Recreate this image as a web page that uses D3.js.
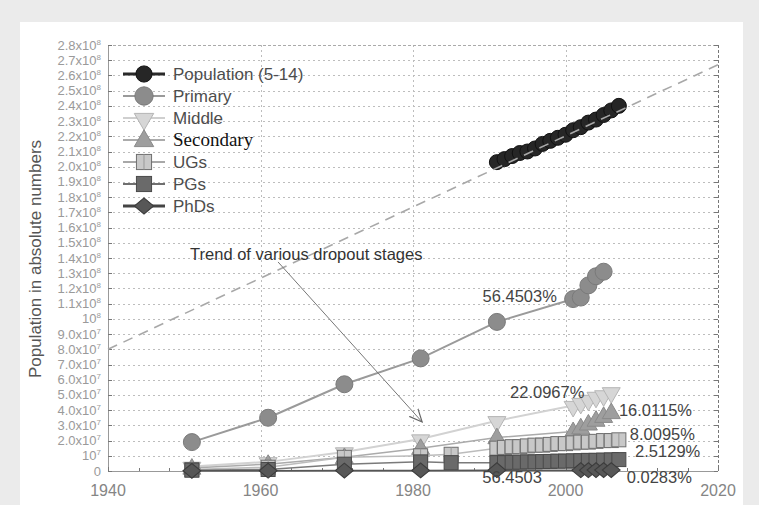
<!DOCTYPE html>
<html>
<head>
<meta charset="utf-8">
<script src="https://cdn.jsdelivr.net/npm/d3@7"></script>
<style>
  html, body { margin: 0; padding: 0; background: #ebebeb; }
  svg { display: block; }
  text { font-family: "Liberation Sans", Arial, sans-serif; }
  text.serif { font-family: "Liberation Serif", "Times New Roman", serif; }
</style>
</head>
<body>
<svg id="chart" width="759" height="505"></svg>
<script>
// ---- data -------------------------------------------------------------
const populationYears  = [1991,1992,1993,1994,1995,1996,1997,1998,1999,2000,2001,2002,2003,2004,2005,2006,2007];
const populationValues = [2.03e8,2.05e8,2.07e8,2.09e8,2.10e8,2.12e8,2.15e8,2.17e8,2.19e8,2.21e8,2.24e8,2.26e8,2.29e8,2.31e8,2.34e8,2.37e8,2.40e8];

const primaryYears  = [1951,1961,1971,1981,1991,2001,2002,2003,2004,2005];
const primaryValues = [1.9e7,3.5e7,5.7e7,7.4e7,9.8e7,1.13e8,1.14e8,1.22e8,1.28e8,1.31e8];

const middleYears  = [1951,1961,1971,1981,1991,2001,2002,2003,2004,2005,2006];
const middleValues = [0.3e7,0.6e7,1.25e7,2.1e7,3.3e7,4.3e7,4.5e7,4.7e7,4.9e7,5.0e7,5.2e7];

const secondaryYears  = [1951,1961,1971,1981,1991,2001,2002,2003,2004,2005,2006];
const secondaryValues = [0.2e7,0.45e7,0.9e7,1.5e7,2.2e7,2.6e7,2.85e7,3.1e7,3.35e7,3.6e7,3.85e7];

const ugYears  = [1951,1961,1971,1981,1985,1991,1992,1993,1994,1995,1996,1997,1998,1999,2000,2001,2002,2003,2004,2005,2006,2007];
const ugValues = [0.1e7,0.25e7,0.9e7,1.0e7,1.1e7,1.5e7,1.55e7,1.6e7,1.6e7,1.65e7,1.7e7,1.7e7,1.75e7,1.8e7,1.8e7,1.85e7,1.9e7,1.9e7,1.95e7,2.0e7,2.0e7,2.05e7];

const pgYears  = [1951,1961,1971,1981,1985,1991,1992,1993,1994,1995,1996,1997,1998,1999,2000,2001,2002,2003,2004,2005,2006,2007];
const pgValues = [0.05e7,0.1e7,0.45e7,0.6e7,0.55e7,0.55e7,0.55e7,0.57e7,0.58e7,0.6e7,0.6e7,0.62e7,0.63e7,0.65e7,0.65e7,0.67e7,0.68e7,0.7e7,0.7e7,0.72e7,0.73e7,0.75e7];

const phdYears  = [1951,1961,1971,1981,1991,2002,2003,2004,2005,2006];
const phdValues = [0.01e7,0.02e7,0.03e7,0.04e7,0.05e7,0.05e7,0.05e7,0.06e7,0.06e7,0.06e7];

// dashed population trend
const trendYears  = [1940, 2020];
const trendValues = [8.0e7, 2.67e8];

const seriesNames = ["Population (5-14)", "Primary", "Middle", "Secondary", "UGs", "PGs", "PhDs"];

const xTicks = [1940, 1960, 1980, 2000, 2020];
const xMinorTicks = [1944,1948,1952,1956,1964,1968,1972,1976,1984,1988,1992,1996,2004,2008,2012,2016];
const yTicks = [0,1e7,2e7,3e7,4e7,5e7,6e7,7e7,8e7,9e7,1e8,1.1e8,1.2e8,1.3e8,1.4e8,1.5e8,1.6e8,1.7e8,1.8e8,1.9e8,2.0e8,2.1e8,2.2e8,2.3e8,2.4e8,2.5e8,2.6e8,2.7e8,2.8e8];

// percentage labels, anchored in data units (year, value)
const noteTexts  = ["56.4503%", "22.0967%", "16.0115%", "8.0095%", "2.5129%", "0.0283%", "56.4503"];
const noteYears  = [1994.0, 1997.6, 2011.8, 2012.7, 2013.4, 2012.3, 1993.0];
const noteValues = [1.144e8, 5.13e7, 4.0e7, 2.37e7, 1.25e7, -0.4e7, -0.46e7];

const trendNote = "Trend of various dropout stages";
const trendNoteAt = [1966.0, 1.42e8];
const arrowFrom = [1962.3, 1.374e8];
const arrowTo   = [1981.2, 3.22e7];

const yTitle = "Population in absolute numbers";

// ---- layout -----------------------------------------------------------
const svg = d3.select("#chart");
const x = d3.scaleLinear().domain([1940, 2020]).range([108, 718]);
const y = d3.scaleLinear().domain([0, 2.8e8]).range([471, 45]);
const [x0, x1] = x.range();
const [yb, yt] = y.range();

svg.append("rect").attr("x", 0).attr("y", 0).attr("width", 759).attr("height", 505).attr("fill", "#ebebeb");
svg.append("rect").attr("x", 20).attr("y", 22).attr("width", 723).attr("height", 483).attr("fill", "#ffffff");

// grid
const grid = svg.append("g").attr("stroke", "#bdbdbd").attr("stroke-width", 1).attr("stroke-dasharray", "2,3");
grid.selectAll("line.h").data(yTicks.filter(v => v > 0 && v < 2.8e8)).join("line")
  .attr("x1", x0).attr("x2", x1).attr("y1", d => Math.round(y(d)) + 0.5).attr("y2", d => Math.round(y(d)) + 0.5);
grid.selectAll("line.v").data([1960, 1980, 2000]).join("line")
  .attr("x1", d => Math.round(x(d)) + 0.5).attr("x2", d => Math.round(x(d)) + 0.5).attr("y1", yt).attr("y2", yb);

// frame: solid left/bottom, dotted top/right
svg.append("line").attr("x1", x0 + 0.5).attr("x2", x0 + 0.5).attr("y1", yt).attr("y2", yb).attr("stroke", "#999");
svg.append("line").attr("x1", x0).attr("x2", x1).attr("y1", yb + 0.5).attr("y2", yb + 0.5).attr("stroke", "#999");
svg.append("line").attr("x1", x0).attr("x2", x1).attr("y1", yt + 0.5).attr("y2", yt + 0.5).attr("stroke", "#aaa").attr("stroke-dasharray", "3,2");
svg.append("line").attr("x1", x1 + 0.5).attr("x2", x1 + 0.5).attr("y1", yt).attr("y2", yb).attr("stroke", "#777").attr("stroke-dasharray", "3,2");

// tick marks (inward)
const ticks = svg.append("g").attr("stroke", "#777").attr("stroke-width", 1);
ticks.selectAll("line.yl").data(yTicks).join("line")
  .attr("x1", x0).attr("x2", x0 + 4).attr("y1", d => Math.round(y(d)) + 0.5).attr("y2", d => Math.round(y(d)) + 0.5);
ticks.selectAll("line.yr").data(yTicks).join("line")
  .attr("x1", x1 - 4).attr("x2", x1).attr("y1", d => Math.round(y(d)) + 0.5).attr("y2", d => Math.round(y(d)) + 0.5);
ticks.selectAll("line.xb").data(xTicks).join("line")
  .attr("x1", d => Math.round(x(d)) + 0.5).attr("x2", d => Math.round(x(d)) + 0.5).attr("y1", yb - 4).attr("y2", yb);
ticks.selectAll("line.xm").data(xMinorTicks).join("line")
  .attr("x1", d => Math.round(x(d)) + 0.5).attr("x2", d => Math.round(x(d)) + 0.5).attr("y1", yb - 3).attr("y2", yb);

// y tick labels like 2.0x10^7
const yLab = svg.append("g").attr("fill", "#9a9a9a").attr("font-size", 13).attr("text-anchor", "end");
yTicks.forEach(v => {
  const t = yLab.append("text").attr("x", 101).attr("y", y(v) + 4.5);
  if (v === 0) { t.text("0"); return; }
  const e = Math.floor(Math.log10(v) + 1e-9);
  const m = v / Math.pow(10, e);
  const base = Math.abs(m - 1) < 1e-9 ? "10" : m.toFixed(1) + "x10";
  t.append("tspan").text(base);
  t.append("tspan").attr("dy", -5).attr("font-size", 8).text(e);
});

// x tick labels
svg.append("g").attr("fill", "#858585").attr("font-size", 16).attr("text-anchor", "middle")
  .selectAll("text").data(xTicks).join("text")
  .attr("x", d => x(d)).attr("y", 496).text(d => d);

// y axis title
svg.append("text")
  .attr("transform", "translate(41,259) rotate(-90)")
  .attr("text-anchor", "middle").attr("font-size", 17).attr("fill", "#555")
  .text(yTitle);

// ---- markers ----------------------------------------------------------
function drawMarker(g, kind, cx, cy, legend) {
  const s = legend ? 1.08 : 1;
  if (kind === "pop") {
    g.append("circle").attr("cx", cx).attr("cy", cy).attr("r", 7.5 * s).attr("fill", "#262626").attr("stroke", "#111");
  } else if (kind === "primary") {
    g.append("circle").attr("cx", cx).attr("cy", cy).attr("r", 8.5 * s).attr("fill", "#8c8c8c").attr("stroke", "#7a7a7a");
  } else if (kind === "middle") {
    g.append("path").attr("d", d3.symbol(d3.symbolTriangle, 140 * s * s)())
      .attr("transform", `translate(${cx},${cy + 1}) rotate(180)`)
      .attr("fill", "#d6d6d6").attr("stroke", "#b5b5b5");
  } else if (kind === "secondary") {
    g.append("path").attr("d", d3.symbol(d3.symbolTriangle, 140 * s * s)())
      .attr("transform", `translate(${cx},${cy + 1})`)
      .attr("fill", "#9e9e9e").attr("stroke", "#8a8a8a");
  } else if (kind === "ug") {
    const w = 14 * s;
    g.append("rect").attr("x", cx - w / 2).attr("y", cy - w / 2).attr("width", w).attr("height", w)
      .attr("fill", "#c8c8c8").attr("stroke", "#6f6f6f").attr("stroke-width", 1);
    g.append("line").attr("x1", cx).attr("x2", cx).attr("y1", cy - w / 2).attr("y2", cy + w / 2).attr("stroke", "#999");
  } else if (kind === "pg") {
    const w = 14 * s;
    g.append("rect").attr("x", cx - w / 2).attr("y", cy - w / 2).attr("width", w).attr("height", w)
      .attr("fill", "#6a6a6a").attr("stroke", "#4a4a4a");
  } else if (kind === "phd") {
    g.append("path").attr("d", d3.symbol(d3.symbolSquare, 110 * s * s)())
      .attr("transform", `translate(${cx},${cy}) scale(1.2,1) rotate(45)`)
      .attr("fill", "#575757").attr("stroke", "#3c3c3c");
  }
}

const series = [
  { kind: "primary",   years: primaryYears,   values: primaryValues,   line: "#9a9a9a", w: 2 },
  { kind: "middle",    years: middleYears,    values: middleValues,    line: "#d2d2d2", w: 2 },
  { kind: "secondary", years: secondaryYears, values: secondaryValues, line: "#ababab", w: 1.5 },
  { kind: "ug",        years: ugYears,        values: ugValues,        line: "#bcbcbc", w: 1.5 },
  { kind: "pg",        years: pgYears,        values: pgValues,        line: "#7a7a7a", w: 1.5 },
  { kind: "phd",       years: phdYears,       values: phdValues,       line: "#555",    w: 1.5 },
  { kind: "pop",       years: populationYears, values: populationValues, line: "#222", w: 2 }
];

const line = d3.line().x(d => x(d[0])).y(d => y(d[1]));
const plot = svg.append("g");
series.forEach(sr => {
  const pts = sr.years.map((yr, i) => [yr, sr.values[i]]);
  plot.append("path").attr("d", line(pts)).attr("fill", "none")
    .attr("stroke", sr.line).attr("stroke-width", sr.w);
  const mg = plot.append("g");
  pts.forEach(p => drawMarker(mg, sr.kind, x(p[0]), y(p[1]), false));
});

// dashed trend line over the population markers
plot.append("path")
  .attr("d", line(trendYears.map((yr, i) => [yr, trendValues[i]])))
  .attr("fill", "none").attr("stroke", "#a8a8a8").attr("stroke-width", 1.6)
  .attr("stroke-dasharray", "10,7");

// ---- legend -----------------------------------------------------------
const legendKinds = ["pop", "primary", "middle", "secondary", "ug", "pg", "phd"];
const legendLine  = ["#2a2a2a", "#9a9a9a", "#cfcfcf", "#ababab", "#a8a8a8", "#6f6f6f", "#444"];
const lg = svg.append("g");
seriesNames.forEach((name, i) => {
  const cy = 74 + i * 22;
  lg.append("line").attr("x1", 123).attr("x2", 165).attr("y1", cy).attr("y2", cy)
    .attr("stroke", legendLine[i]).attr("stroke-width", i === 0 || i === 6 ? 3 : 2);
  drawMarker(lg, legendKinds[i], 144, cy, true);
  const t = lg.append("text").attr("x", 173).attr("y", cy + 6).text(name);
  if (name === "Secondary") {
    t.attr("class", "serif").attr("font-size", 19).attr("fill", "#111");
  } else {
    t.attr("font-size", 17).attr("fill", "#4d4d4d");
  }
});

// ---- annotations ------------------------------------------------------
const notes = svg.append("g").attr("font-size", 16.5).attr("fill", "#444").attr("text-anchor", "middle");
noteTexts.forEach((txt, i) => {
  notes.append("text").attr("x", x(noteYears[i])).attr("y", y(noteValues[i]) + 5.5).text(txt);
});

svg.append("defs").append("marker")
  .attr("id", "openArrow").attr("viewBox", "0 0 12 12").attr("refX", 11).attr("refY", 6)
  .attr("markerWidth", 14).attr("markerHeight", 14).attr("markerUnits", "userSpaceOnUse")
  .attr("orient", "auto")
  .append("path").attr("d", "M0,1 L11,6 L0,11").attr("fill", "none").attr("stroke", "#666").attr("stroke-width", 1);

svg.append("line")
  .attr("x1", x(arrowFrom[0])).attr("y1", y(arrowFrom[1]))
  .attr("x2", x(arrowTo[0])).attr("y2", y(arrowTo[1]))
  .attr("stroke", "#777").attr("stroke-width", 1).attr("marker-end", "url(#openArrow)");

svg.append("text").attr("x", x(trendNoteAt[0])).attr("y", y(trendNoteAt[1]) + 5.5)
  .attr("text-anchor", "middle").attr("font-size", 16.5).attr("fill", "#333")
  .text(trendNote);
</script>
</body>
</html>
